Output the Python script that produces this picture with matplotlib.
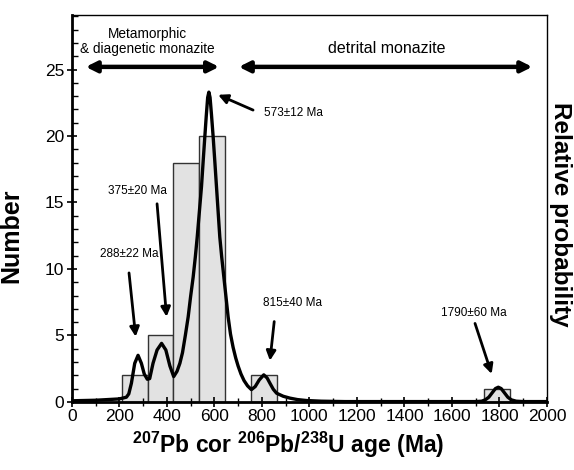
import matplotlib
matplotlib.use('Agg')
import matplotlib.pyplot as plt
from matplotlib.ticker import MultipleLocator

plt.rcParams['font.family'] = ['Liberation Sans', 'DejaVu Sans']
plt.rcParams['mathtext.fontset'] = 'custom'
plt.rcParams['mathtext.rm'] = 'Liberation Sans'
plt.rcParams['mathtext.bf'] = 'Liberation Sans:bold'

# histogram bins (left edge, Ma) and counts
bin_left = [210, 319, 428, 537, 755, 1735]
bin_count = [2, 5, 18, 20, 2, 1]
bin_width = 109

# probability density curve (age Ma, value in count units)
pdf_age = [0, 100, 200, 230, 240, 251, 265, 279, 293, 305, 318, 328, 342, 359,
           378, 396, 413, 429, 443, 455, 466, 478, 490, 500, 511, 520, 528, 537,
           546, 553, 560, 566, 572, 577, 582, 588, 595, 602, 609, 616, 623, 631,
           640, 649, 658, 668, 679, 690, 700, 712, 725, 740, 756, 772, 789, 808, 822, 834,
           848, 862, 890, 918, 950, 988, 1050, 1150, 1700, 1725, 1740, 1755, 1770,
           1783, 1795, 1807, 1820, 1835, 1850, 1870, 1900, 2000]
pdf_val = [0.08, 0.12, 0.22, 0.35, 0.6, 1.4, 2.9, 3.5, 2.9, 2.1, 1.7, 1.75, 2.9, 3.9,
           4.4, 3.9, 2.7, 1.9, 2.3, 2.9, 3.7, 5.0, 6.4, 7.9, 9.4, 10.9, 12.4, 14.3,
           16.2, 18.1, 19.95, 21.5, 22.9, 23.3, 22.9, 21.6, 19.95, 18.1, 16.2, 14.3, 12.4, 10.9,
           9.4, 7.9, 6.4, 5.1, 4.1, 3.3, 2.7, 2.1, 1.6, 1.2, 0.92, 1.15, 1.65, 2.03, 1.8, 1.4,
           0.95, 0.65, 0.42, 0.28, 0.17, 0.1, 0.05, 0.02, 0.02, 0.05, 0.15, 0.35, 0.7,
           1.0, 1.1, 1.0, 0.7, 0.35, 0.15, 0.05, 0.02, 0.02]

# peak labels: text, text pos, arrow tail, arrow head
peak_text = ['288\u00b122 Ma', '375\u00b120 Ma', '573\u00b112 Ma', '815\u00b140 Ma', '1790\u00b160 Ma']
peak_text_xy = [(363, 11.1), (399, 15.9), (808, 21.7), (930, 7.4), (1830, 6.7)]
peak_text_ha = ['right', 'right', 'left', 'center', 'right']
peak_tail = [(241, 9.7), (359, 14.9), (763, 21.95), (852, 6.04), (1697, 5.9)]
peak_head = [(269, 4.9), (399, 6.4), (616, 23.1), (834, 3.1), (1767, 2.1)]

fig = plt.figure(figsize=(5.74, 4.70), dpi=100)
ax = fig.add_axes([0.125, 0.145, 0.828, 0.823])

ax.bar(bin_left, bin_count, width=bin_width, align='edge', color='#e2e2e2',
       edgecolor='#333333', linewidth=1.0, zorder=1)
ax.plot(pdf_age, pdf_val, color='black', linewidth=2.4, zorder=3,
        solid_joinstyle='round')

for t, xy, ha, tail, head in zip(peak_text, peak_text_xy, peak_text_ha, peak_tail, peak_head):
    ax.text(xy[0], xy[1], t, ha=ha, va='center', fontsize=8.5)
    ax.annotate('', xy=head, xytext=tail,
                arrowprops=dict(arrowstyle='-|>', color='black', lw=2.0,
                                mutation_scale=14, shrinkA=0, shrinkB=0))

# range arrows
ax.annotate('', xy=(59, 25.2), xytext=(620, 25.2),
            arrowprops=dict(arrowstyle='<|-|>', color='black', lw=3.2,
                            mutation_scale=16, shrinkA=0, shrinkB=0))
ax.annotate('', xy=(703, 25.2), xytext=(1938, 25.2),
            arrowprops=dict(arrowstyle='<|-|>', color='black', lw=3.2,
                            mutation_scale=16, shrinkA=0, shrinkB=0))
ax.text(320, 27.1, 'Metamorphic\n& diagenetic monazite', ha='center', va='center',
        fontsize=9.8, linespacing=1.05)
ax.text(1325, 26.6, 'detrital monazite', ha='center', va='center', fontsize=11.5)

ax.set_xlim(0, 2000)
ax.set_ylim(0, 29.1)
ax.xaxis.set_major_locator(MultipleLocator(200))
ax.xaxis.set_minor_locator(MultipleLocator(100))
ax.yaxis.set_major_locator(MultipleLocator(5))
ax.yaxis.set_minor_locator(MultipleLocator(1))
ax.tick_params(axis='both', which='major', direction='inout', length=7, width=1.2,
               labelsize=12.5, pad=2)
ax.tick_params(axis='x', which='minor', direction='inout', length=6, width=1.0)
ax.tick_params(axis='y', which='minor', direction='in', length=4, width=1.0)

ax.spines['left'].set_linewidth(2.0)
ax.spines['bottom'].set_linewidth(2.0)
ax.spines['top'].set_linewidth(1.0)
ax.spines['right'].set_linewidth(1.0)

ax.set_xlabel(r'$^{\mathbf{207}}$Pb cor $^{\mathbf{206}}$Pb/$^{\mathbf{238}}$U age (Ma)',
              fontsize=16.5, fontweight='bold')
ax.xaxis.set_label_coords(0.455, -0.072)
ax.set_ylabel('Number', fontsize=18, fontweight='bold')
ax.yaxis.set_label_coords(-0.102, 0.43)
fig.text(0.977, 0.543, 'Relative probability', rotation=270, ha='center', va='center',
         fontsize=17.5, fontweight='bold')

plt.savefig('out.png', dpi=100)
